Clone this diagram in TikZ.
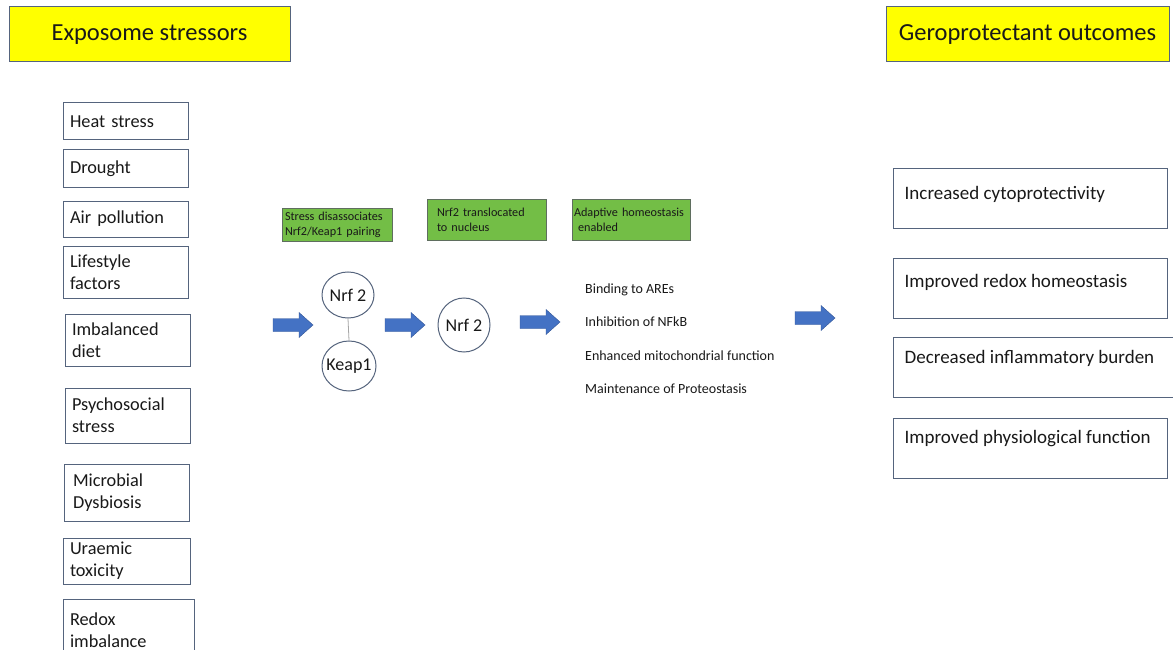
\documentclass[tikz,border=0pt]{standalone}
\usepackage{fontspec}
\setmainfont{Carlito}
\usetikzlibrary{positioning,shapes.geometric}
\definecolor{boxline}{RGB}{85,100,125}
\definecolor{titlefill}{RGB}{255,255,0}
\definecolor{greenfill}{RGB}{115,190,70}
\definecolor{greenline}{RGB}{95,110,95}
\definecolor{arrowblue}{RGB}{68,114,196}
\definecolor{arrowedge}{RGB}{50,85,150}
\definecolor{txt}{RGB}{25,25,25}
\tikzset{
  titlebox/.style={draw=boxline, line width=1pt, fill=titlefill, minimum width=#1, minimum height=55, inner sep=0, text=txt, font=\fontsize{24.5}{28}\selectfont},
  stressor/.style={draw=boxline, line width=1pt, text width=#1, align=left, inner xsep=7, inner ysep=0, text=txt, font=\fontsize{18.3}{22}\selectfont},
  outcome/.style={draw=boxline, line width=1pt, minimum width=#1, minimum height=60, inner sep=0},
  outtext/.style={anchor=west, inner sep=0, text=txt, font=\fontsize{19}{22}\selectfont},
  greenbox/.style={draw=greenline, line width=0.8pt, fill=greenfill, text width=#1, align=left, inner ysep=0, text=txt, font=\fontsize{12.2}{15}\selectfont},
  mol/.style={draw=boxline, line width=1pt, ellipse, inner sep=0},
  moltext/.style={inner sep=0, text=txt, font=\fontsize{18}{20}\selectfont},
  effect/.style={anchor=west, inner sep=0, text=txt, font=\fontsize{14}{16}\selectfont},
  blockarrow/.pic={\filldraw[fill=arrowblue, draw=arrowedge, line width=0.4pt] (-20,-6.5) -- (6,-6.5) -- (6,-12.5) -- (20,0) -- (6,12.5) -- (6,6.5) -- (-20,6.5) -- cycle;}
}
\begin{document}
\begin{tikzpicture}[x=1pt,y=-1pt]
\useasboundingbox[fill=white] (0,0) rectangle (1173,650);
% titles
\node[titlebox=281] (expo) at (149.5,34.5) {Exposome stressors};
\node[titlebox=283] (gero) at (1027.5,34.5) {Geroprotectant outcomes};
% stressors
\node[stressor=111, minimum height=37] (heat) at (125.5,121.5) {Heat stress};
\node[stressor=111, minimum height=37] (drought) at (125.5,168.5) {Drought};
\node[stressor=111, minimum height=36] (air) at (125.5,219) {Air pollution};
\node[stressor=111, minimum height=52] (life) at (125.5,272) {Lifestyle\\factors};
\node[stressor=111, minimum height=52] (diet) at (127.5,340) {Imbalanced\\diet};
\node[stressor=111, minimum height=55] (psycho) at (127.5,415.5) {Psychosocial\\stress};
\node[stressor=107, inner xsep=9, minimum height=57] (micro) at (126.5,492.5) {Microbial\\Dysbiosis};
\node[stressor=113, minimum height=46] (urae) at (126.5,561) {Uraemic\\toxicity};
\node[stressor=117, minimum height=63] (redox) at (128.5,630.5) {Redox\\imbalance};
% green info boxes
\node[greenbox=104, inner xsep=3, minimum height=33] (g1) at (337,224.5) {Stress disassociates\\Nrf2/Keap1 pairing};
\node[greenbox=99, inner xsep=10, minimum height=41] (g2) at (486.5,219.5) {Nrf2 translocated\\to nucleus};
\node[greenbox=114, inner xsep=2, minimum height=41] (g3) at (631,219.5) {Adaptive homeostasis\\\ enabled};
% molecules
\node[mol, minimum width=52, minimum height=46] (nrfa) at (348,295) {};
\node[moltext] (nrfat) at (nrfa.center) {Nrf 2};
\node[mol, minimum width=54, minimum height=50] (keap) at (349,366) {};
\node[moltext] (keapt) at (keap.center) {Keap1};
\node[mol, minimum width=52, minimum height=54] (nrfb) at (464,325) {};
\node[moltext] (nrfbt) at (nrfb.center) {Nrf 2};
\draw[draw=gray!70, line width=0.8pt] (nrfa.south) -- (keap.north);
% block arrows
\pic at (293,325) {blockarrow};
\pic at (405,325) {blockarrow};
\pic at (540,322) {blockarrow};
\pic at (815,318) {blockarrow};
% effects
\node[effect] (e1) at (585,290) {Binding to AREs};
\node[effect] (e2) at (585,322) {Inhibition of NFkB};
\node[effect] (e3) at (585,356) {Enhanced mitochondrial function};
\node[effect] (e4) at (585,389) {Maintenance of Proteostasis};
% outcomes
\node[outcome=274] (o1) at (1030,198.5) {};
\node[outtext] (t1) at ([xshift=12pt,yshift=4.5pt]o1.west) {Increased cytoprotectivity};
\node[outcome=274] (o2) at (1030,288.5) {};
\node[outtext] (t2) at ([xshift=12pt,yshift=6.5pt]o2.west) {Improved redox homeostasis};
\node[outcome=292] (o3) at (1039,367.5) {};
\node[outtext] (t3) at ([xshift=12pt,yshift=9.5pt]o3.west) {Decreased inflammatory burden};
\node[outcome=274] (o4) at (1030,448) {};
\node[outtext] (t4) at ([xshift=12pt,yshift=9pt]o4.west) {Improved physiological function};
\end{tikzpicture}
\end{document}
